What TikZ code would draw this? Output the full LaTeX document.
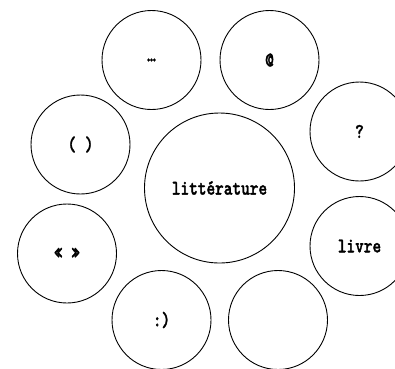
\documentclass[tikz,border=0pt]{standalone}
\usepackage{fontspec}
\usepackage{graphicx}
\newfontfamily\twfont{lmmonolt10-bold}[Extension=.otf, FakeBold=1.8]
\newcommand{\tw}[1]{\scalebox{1}[1.27]{\fontsize{16.5}{18}\selectfont\twfont #1}}
\begin{document}
\begin{tikzpicture}[x=1pt,y=-1pt,
  bub/.style={circle,draw=black,line width=0.9pt,inner sep=0pt,minimum size=99pt},
  big/.style={bub,minimum size=150pt}]
\useasboundingbox (0,0) rectangle (395,368);
\node[big] (lit) at (219.5,188) {\tw{littérature}};
\node[bub] (dots) at (151.5,60) {\tw{…}};
\node[bub] (at) at (269.5,60) {\tw{@}};
\node[bub] (q) at (359.5,131.5) {\tw{?}};
\node[bub] (par) at (80.5,144.5) {\tw{( )}};
\node[bub] (guil) at (67,253.5) {\tw{« »}};
\node[bub] (livre) at (359.5,246) {\tw{livre}};
\node[bub] (smile) at (161.5,320) {\tw{:)}};
\node[bub] (empty) at (278,320) {};
\end{tikzpicture}
\end{document}
